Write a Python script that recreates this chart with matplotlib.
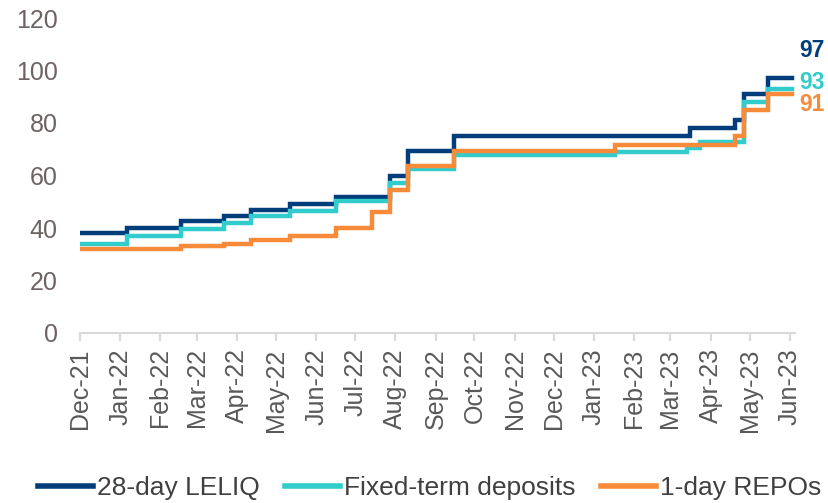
import numpy as np
import matplotlib
matplotlib.use("Agg")
import matplotlib.pyplot as plt
import matplotlib.dates as mdates

plt.rcParams['font.family'] = ['Liberation Sans', 'DejaVu Sans']

# ---- data (change points, step series) ----
leliq_dates = ["2021-12-01", "2022-01-06", "2022-02-17", "2022-03-22", "2022-04-12",
               "2022-05-12", "2022-06-16", "2022-07-28", "2022-08-11", "2022-09-15",
               "2023-03-16", "2023-04-20", "2023-04-27", "2023-05-15", "2023-06-03"]
leliq_vals = [38, 40, 42.5, 44.5, 47, 49, 52, 60, 69.5, 75, 78, 81, 91, 97, 97]

dep_dates = ["2021-12-01", "2022-01-06", "2022-02-17", "2022-03-22", "2022-04-12",
             "2022-05-12", "2022-06-16", "2022-07-28", "2022-08-11", "2022-09-15",
             "2023-01-17", "2023-03-14", "2023-03-24", "2023-04-27", "2023-05-15", "2023-06-03"]
dep_vals = [34, 37, 39.8, 41.8, 44.5, 46.4, 50.3, 57, 62.5, 67.7,
            68.8, 70.6, 72.6, 88, 93, 93]

repo_dates = ["2021-12-01", "2022-02-17", "2022-03-22", "2022-04-12", "2022-05-12",
              "2022-06-16", "2022-07-14", "2022-07-28", "2022-08-11", "2022-09-15",
              "2023-01-17", "2023-04-20", "2023-04-27", "2023-05-15", "2023-06-03"]
repo_vals = [32, 33, 34, 35.5, 37, 40, 46, 54.5, 63.8, 69.5, 71.5, 75, 85, 91, 91]

series_names = ["28-day LELIQ", "Fixed-term deposits", "1-day REPOs"]
end_labels = ["97", "93", "91"]

colors = ["#003D7A", "#33CCCC", "#F78B3A"]

fig = plt.figure(figsize=(8.29, 5.03), dpi=100)
ax = fig.add_axes([80/829, 1-333/503, (795-80)/829, (333-18)/503])

all_dates = [leliq_dates, dep_dates, repo_dates]
all_vals = [leliq_vals, dep_vals, repo_vals]
label_offsets = [(5, 20), (5, 4.5), (5, -7.5)]

for d, v, c, name in zip(all_dates, all_vals, colors, series_names):
    x = np.array(d, dtype="datetime64[D]")
    ax.plot(x, v, drawstyle="steps-post", color=c, lw=3.2, label=name,
            solid_joinstyle="miter")

for d, v, c, lab, off in zip(all_dates, all_vals, colors, end_labels, label_offsets):
    ax.annotate(lab, xy=(np.datetime64(d[-1]), v[-1]), xytext=off,
                textcoords="offset points", ha="left", va="center",
                fontsize=16.5, fontweight="bold", color=c)

ax.set_ylim(0, 120)
ax.set_yticks(np.arange(0, 121, 20))
ax.set_xlim(np.datetime64("2021-12-01"), np.datetime64("2023-06-05"))

ax.xaxis.set_major_locator(mdates.MonthLocator())
ax.xaxis.set_major_formatter(mdates.DateFormatter("%b-%y"))

for s in ["left", "top", "right"]:
    ax.spines[s].set_visible(False)
ax.spines["bottom"].set_color("#D9D9D9")
ax.spines["bottom"].set_linewidth(1.5)

ax.tick_params(axis="x", direction="out", length=6, width=1.5, color="#D9D9D9",
               labelsize=18, labelcolor="#595959", pad=5, labelrotation=90)
ax.tick_params(axis="y", length=0, labelsize=18, labelcolor="#6E6363", pad=16)

leg = fig.legend(loc="center", bbox_to_anchor=(0.518, 1-488/503), ncol=3,
                 frameon=False, fontsize=19, handlelength=2.1, handletextpad=0.15,
                 columnspacing=0.95, labelcolor="#404040")
for line in leg.get_lines():
    line.set_linewidth(4)

fig.savefig("out.png", dpi=100)
